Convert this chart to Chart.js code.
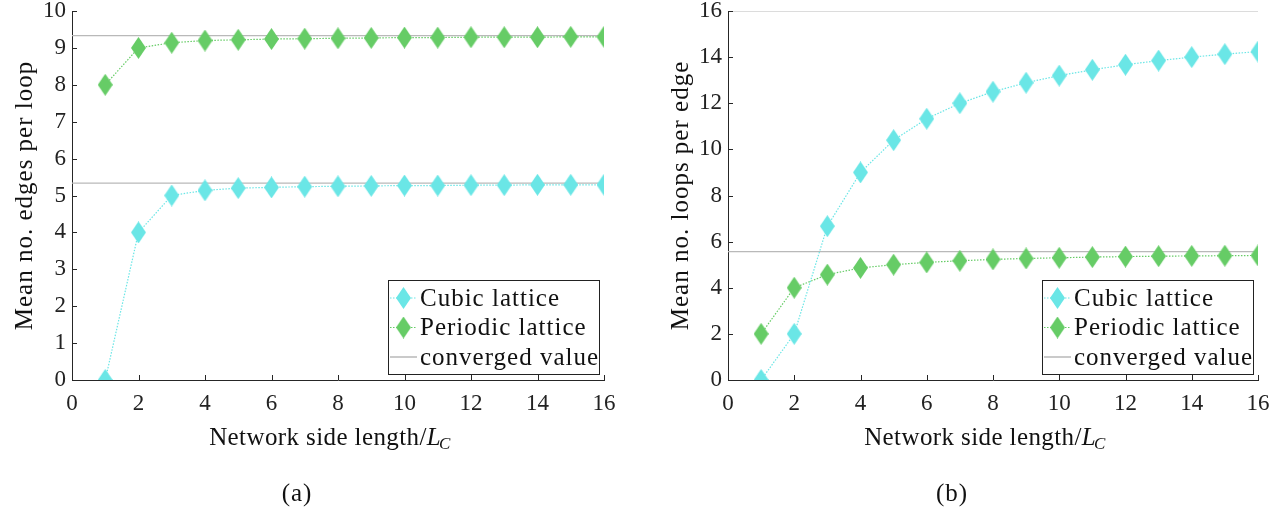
<!DOCTYPE html>
<html>
<head>
<meta charset="utf-8">
<script src="https://cdn.jsdelivr.net/npm/chart.js@4.4.1/dist/chart.umd.min.js"></script>
<style>
  html, body { margin: 0; padding: 0; background: #fff; }
  .wrap { display: flex; width: 1286px; height: 514px; }
  .panel { position: relative; width: 643px; height: 514px; }
</style>
</head>
<body>
<div class="wrap">
  <div class="panel"><canvas id="chartA" width="643" height="514"></canvas></div>
  <div class="panel"><canvas id="chartB" width="643" height="514"></canvas></div>
</div>
<script>
// network side length / L_C
const sideLengths = [1, 2, 3, 4, 5, 6, 7, 8, 9, 10, 11, 12, 13, 14, 15, 16];

// (a) mean number of edges per loop
const edgesCubic    = [0, 4, 5, 5.14, 5.2, 5.22, 5.24, 5.25, 5.26, 5.27, 5.27, 5.28, 5.28, 5.29, 5.29, 5.29];
const edgesPeriodic = [8, 9, 9.14, 9.2, 9.22, 9.24, 9.25, 9.26, 9.27, 9.28, 9.28, 9.29, 9.29, 9.29, 9.3, 9.3];
const edgesConverged = [5.333, 9.333];

// (b) mean number of loops per edge
const loopsCubic    = [0, 2, 6.67, 9, 10.4, 11.33, 12, 12.5, 12.89, 13.2, 13.45, 13.67, 13.85, 14, 14.13, 14.24];
const loopsPeriodic = [2, 4, 4.57, 4.86, 5, 5.1, 5.17, 5.23, 5.27, 5.3, 5.33, 5.35, 5.37, 5.38, 5.39, 5.4];
const loopsConverged = [16, 5.57];

const xTicks = [0, 2, 4, 6, 8, 10, 12, 14, 16];
const legendLabels = ['Cubic lattice', 'Periodic lattice', 'converged value'];

const CYAN = '#6ae6e6';
const GREEN = '#66cc66';
const GREY = '#b9b9b9';
const AXIS = '#262626';
const SERIF = '"Liberation Serif", "DejaVu Serif", serif';
const TXT = '25px ' + SERIF;

// tall diamond marker
function diamond(color, w, h) {
  const c = document.createElement('canvas');
  c.width = w; c.height = h;
  const g = c.getContext('2d');
  g.fillStyle = color;
  g.beginPath();
  g.moveTo(w / 2, 0); g.lineTo(w, h / 2); g.lineTo(w / 2, h); g.lineTo(0, h / 2);
  g.closePath(); g.fill();
  return c;
}
const cyanMark = diamond(CYAN, 15, 22);
const greenMark = diamond(GREEN, 15, 22);

function pts(ys) { return ys.map((y, i) => ({ x: sideLengths[i], y: y })); }

// inward ticks, legend box, axis titles, caption
const decorPlugin = {
  id: 'decor',
  afterDraw(chart, args, o) {
    const ctx = chart.ctx;
    const xs = chart.scales.x, ys = chart.scales.y;
    const a = chart.chartArea;
    ctx.save();
    ctx.strokeStyle = AXIS;
    ctx.lineWidth = 1;
    ctx.beginPath();
    xs.ticks.forEach(t => {
      const px = Math.round(xs.getPixelForValue(t.value)) + 0.5;
      ctx.moveTo(px, a.bottom); ctx.lineTo(px, a.bottom - 5);
    });
    ys.ticks.forEach(t => {
      const py = Math.round(ys.getPixelForValue(t.value)) + 0.5;
      ctx.moveTo(a.left, py); ctx.lineTo(a.left + 5, py);
    });
    ctx.stroke();

    ctx.letterSpacing = '1px';
    ctx.font = TXT;

    // legend
    const lw = o.legendW, lh = 94;
    const lx = a.right - lw - 5, ly = a.bottom - 100;
    ctx.fillStyle = '#fff';
    ctx.fillRect(lx, ly, lw, lh);
    ctx.strokeStyle = '#222';
    ctx.strokeRect(lx + 0.5, ly + 0.5, lw, lh);
    ctx.textBaseline = 'middle';
    ctx.textAlign = 'left';
    const rows = [[CYAN, cyanMark, true], [GREEN, greenMark, true], [GREY, null, false]];
    rows.forEach((r, i) => {
      const cy = ly + 18 + i * 29.5;
      ctx.strokeStyle = r[0];
      ctx.lineWidth = r[2] ? 1.2 : 1.5;
      ctx.setLineDash(r[2] ? [1.5, 1.5] : []);
      ctx.beginPath(); ctx.moveTo(lx + 2, cy); ctx.lineTo(lx + 29, cy); ctx.stroke();
      ctx.setLineDash([]);
      if (r[1]) ctx.drawImage(r[1], lx + 8, cy - 11);
      ctx.fillStyle = '#111';
      ctx.fillText(legendLabels[i], lx + 32, cy + 1);
    });

    // y axis title
    ctx.save();
    ctx.translate(o.yTitleX, (a.top + a.bottom) / 2);
    ctx.rotate(-Math.PI / 2);
    ctx.textAlign = 'center';
    ctx.fillText(o.yTitle, 0, 0);
    ctx.restore();

    // x axis title: Network side length/L_C
    ctx.letterSpacing = '0.4px';
    const cx = (a.left + a.right) / 2 - 7, ty = 438;
    const main = 'Network side length/';
    ctx.font = TXT;
    const w1 = ctx.measureText(main).width;
    ctx.font = 'italic ' + TXT;
    const w2 = ctx.measureText('L').width;
    ctx.font = 'italic 17px ' + SERIF;
    const w3 = ctx.measureText('C').width;
    const x0 = cx - (w1 + w2 + w3) / 2;
    ctx.font = TXT;
    ctx.fillText(main, x0, ty);
    ctx.font = 'italic ' + TXT;
    ctx.fillText('L', x0 + w1, ty);
    ctx.font = 'italic 17px ' + SERIF;
    ctx.fillText('C', x0 + w1 + w2 - 2, ty + 7);

    // caption
    ctx.letterSpacing = '1px';
    ctx.font = TXT;
    ctx.textAlign = 'center';
    ctx.fillText(o.caption, o.captionX, 494);
    ctx.restore();
  }
};

function makeChart(id, opts) {
  const lines = opts.converged.map(v => ({
    data: [{ x: 0, y: v }, { x: 16, y: v }],
    borderColor: GREY, borderWidth: 1.2, pointRadius: 0
  }));
  return new Chart(document.getElementById(id), {
    type: 'line',
    data: {
      datasets: [
        {
          label: legendLabels[0], data: pts(opts.cubic),
          borderColor: CYAN, borderWidth: 1.2, borderDash: [1.5, 1.5],
          pointStyle: cyanMark, pointRadius: 8, tension: 0
        },
        {
          label: legendLabels[1], data: pts(opts.periodic),
          borderColor: GREEN, borderWidth: 1.2, borderDash: [1.5, 1.5],
          pointStyle: greenMark, pointRadius: 8, tension: 0
        }
      ].concat(lines)
    },
    options: {
      responsive: false,
      animation: false,
      events: [],
      layout: { padding: { left: 0, top: 11, right: opts.padRight, bottom: 0 } },
      plugins: {
        legend: { display: false },
        tooltip: { enabled: false },
        decor: {
          legendW: opts.legendW, caption: opts.caption, captionX: opts.captionX,
          yTitle: opts.yTitle, yTitleX: opts.yTitleX
        }
      },
      scales: {
        x: {
          type: 'linear', min: 0, max: 16,
          afterBuildTicks: s => { s.ticks = xTicks.map(v => ({ value: v })); },
          afterFit: s => { s.height = 134; s.paddingLeft = 0; s.paddingRight = 0; },
          grid: { display: false, drawTicks: false },
          border: { display: true, color: AXIS, width: 1 },
          ticks: { padding: 10, color: '#222', font: { family: SERIF, size: 23 } }
        },
        y: {
          min: 0, max: opts.yMax,
          afterFit: s => { s.width = opts.yWidth; s.paddingTop = 0; s.paddingBottom = 0; },
          grid: { display: false, drawTicks: false },
          border: { display: true, color: AXIS, width: 1 },
          ticks: { stepSize: opts.yStep, padding: 6, color: '#222', font: { family: SERIF, size: 23 } }
        }
      }
    },
    plugins: [decorPlugin]
  });
}

makeChart('chartA', {
  cubic: edgesCubic, periodic: edgesPeriodic, converged: edgesConverged,
  yMax: 10, yStep: 1, yWidth: 72, padRight: 39, yTitle: 'Mean no. edges per loop',
  yTitleX: 25, legendW: 211, caption: '(a)', captionX: 297
});
makeChart('chartB', {
  cubic: loopsCubic, periodic: loopsPeriodic, converged: loopsConverged,
  yMax: 16, yStep: 2, yWidth: 85, padRight: 28, yTitle: 'Mean no. loops per edge',
  yTitleX: 38, legendW: 211, caption: '(b)', captionX: 309
});
</script>
</body>
</html>
